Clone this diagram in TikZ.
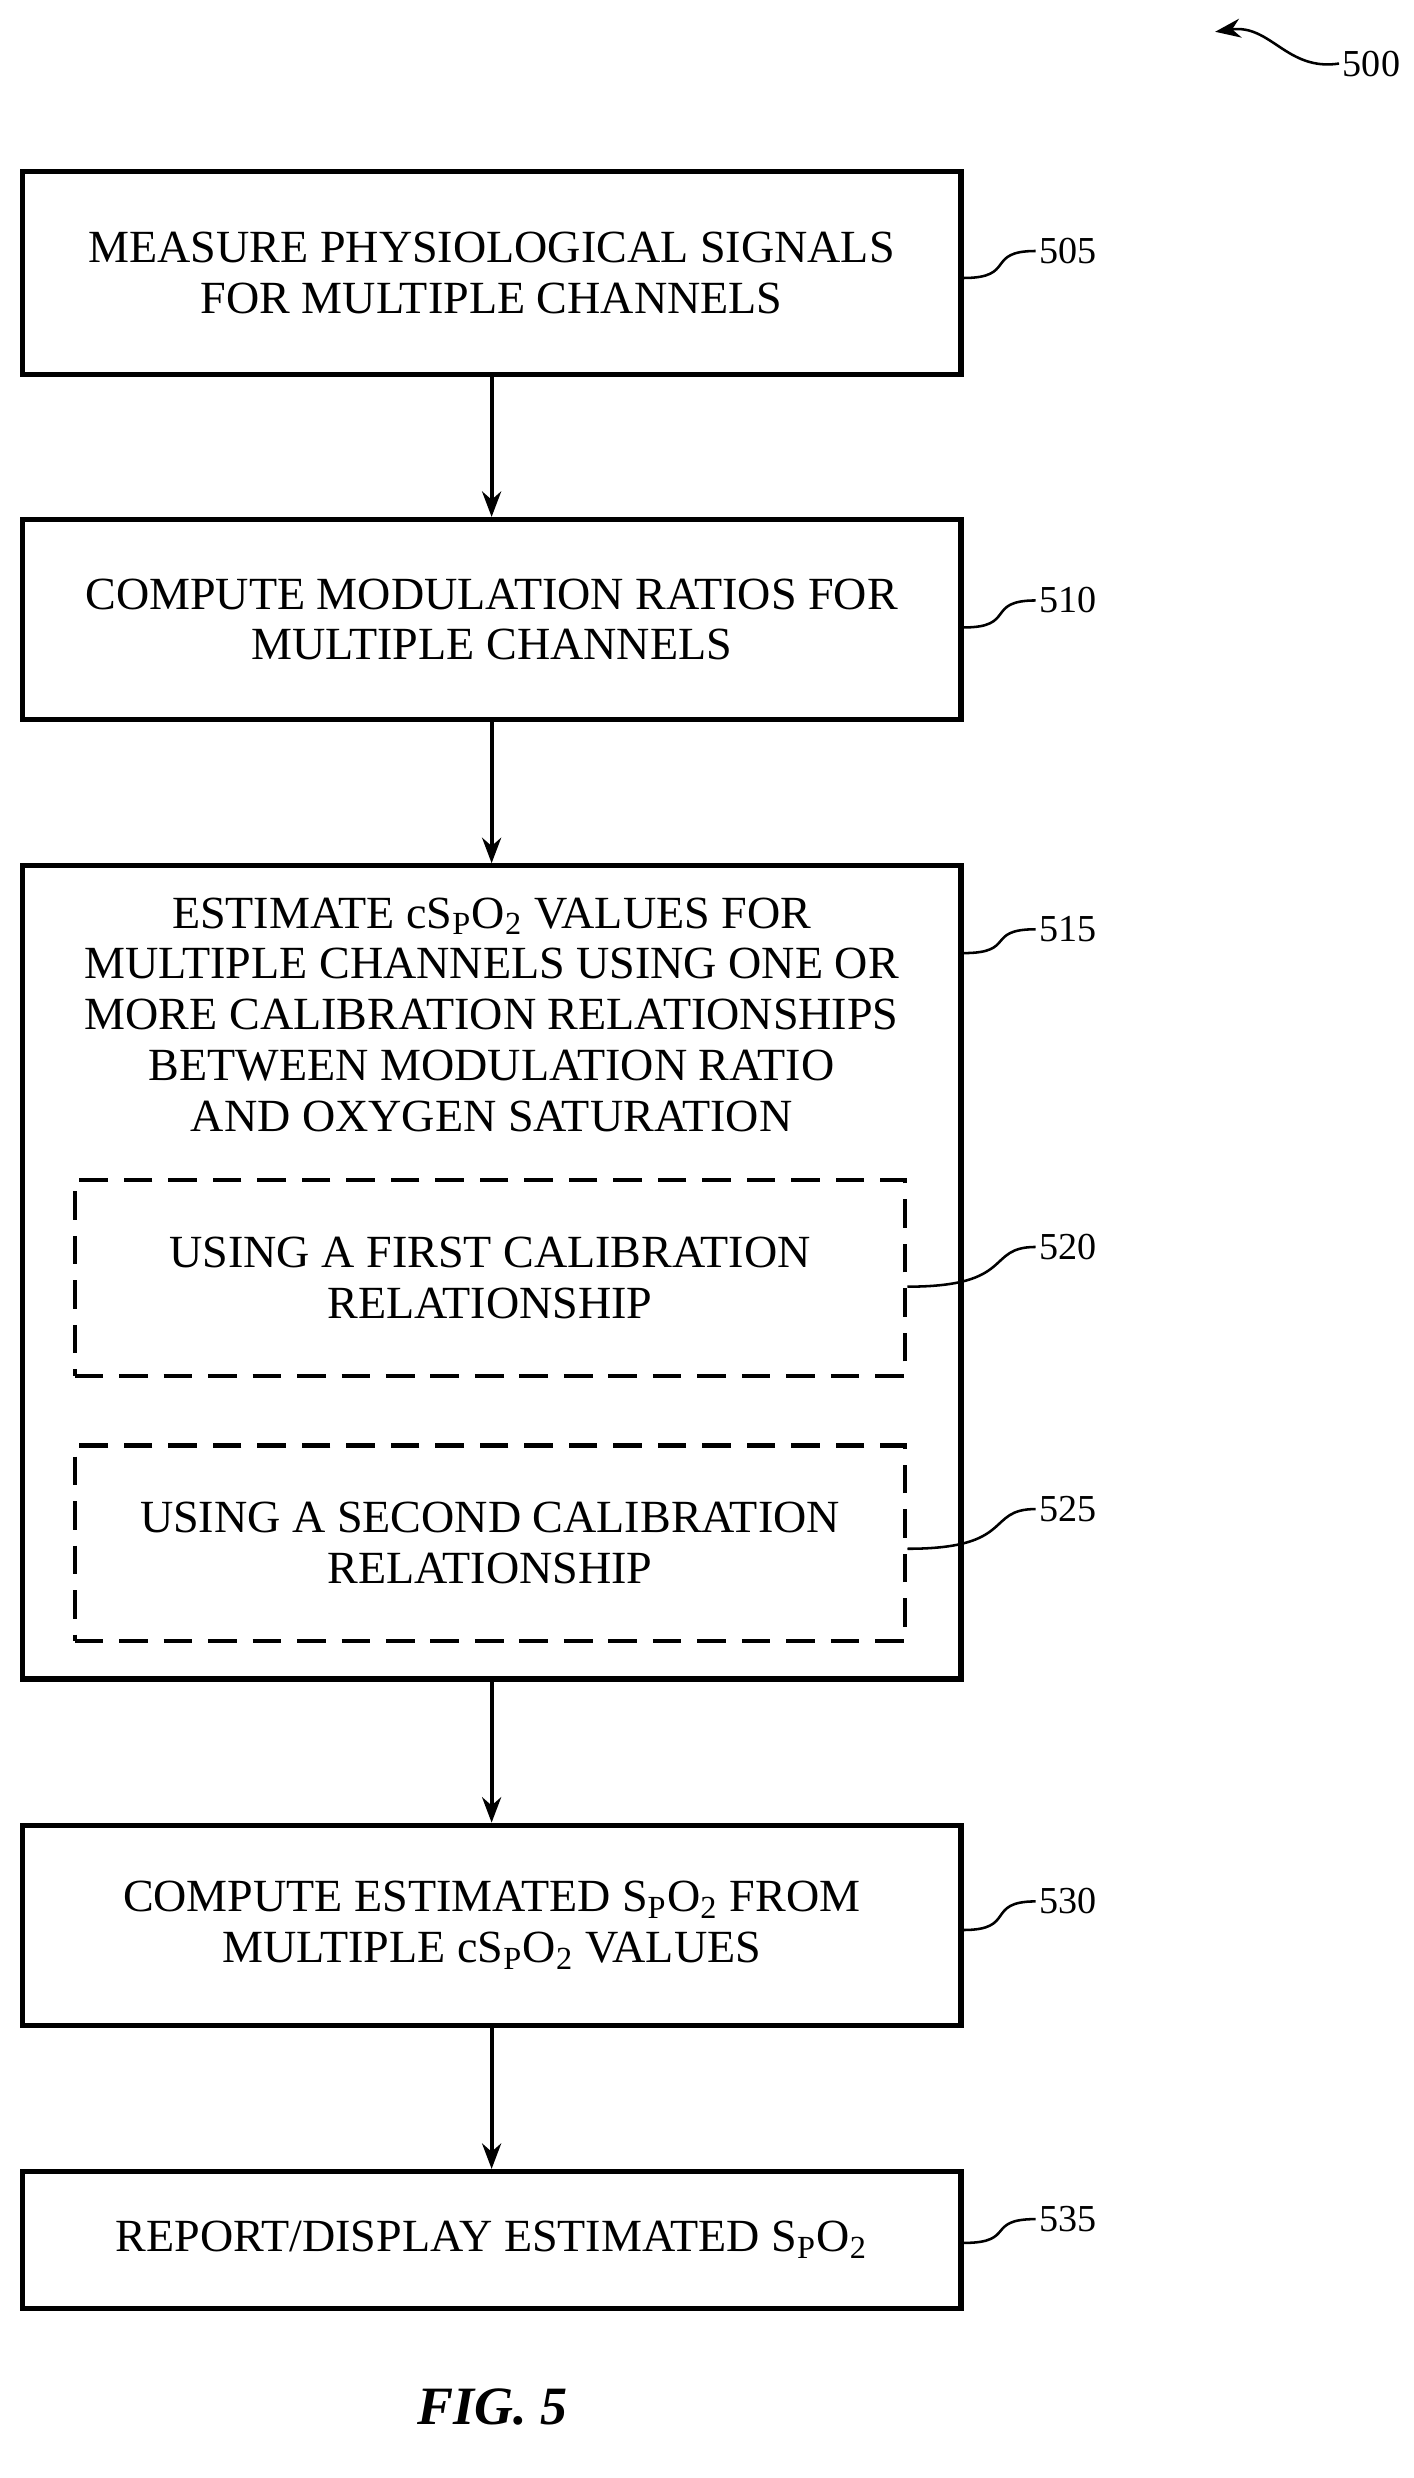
\documentclass[tikz,border=0pt]{standalone}
\usepackage{fontspec}
\setmainfont{Liberation Serif}
\usetikzlibrary{positioning,arrows.meta}
\tikzset{
  stepbox/.style={draw,line width=1.6pt,minimum width=295.5pt,align=center,font=\fontsize{14.5}{16}\selectfont,inner sep=0pt},
  sub/.style={draw,dashed,line width=1.3pt,dash pattern=on 9pt off 5pt,minimum width=261.5pt,minimum height=61.5pt,align=center,font=\fontsize{14.5}{16}\selectfont},
  ref/.style={font=\fontsize{12}{14}\selectfont,anchor=west,inner sep=1pt},
  lead/.style={line width=0.8pt},
  flow/.style={line width=1.2pt,-{Stealth[length=8pt,width=6pt]}}
}
\newcommand{\spo}{S\textsubscript{P}O\textsubscript{2}}
\begin{document}
\begin{tikzpicture}[x=0.5pt,y=-0.5pt]
\useasboundingbox (0,0) rectangle (890,1560);
%the steps
\node[stepbox,minimum height=64pt] (s505) at (309.5,172) {MEASURE PHYSIOLOGICAL SIGNALS\\FOR MULTIPLE CHANNELS};
\node[stepbox,minimum height=63pt] (s510) at (309.5,390) {COMPUTE MODULATION RATIOS FOR\\MULTIPLE CHANNELS};
\node[stepbox,minimum height=256pt] (s515) at (309.5,801) {};
\node[align=center,font=\fontsize{14.5}{16}\selectfont,anchor=north] (t515) at (309.5,558) {ESTIMATE c\spo{} VALUES FOR\\MULTIPLE CHANNELS USING ONE OR\\MORE CALIBRATION RELATIONSHIPS\\BETWEEN MODULATION RATIO\\AND OXYGEN SATURATION};
\node[sub] (s520) at (308.5,804.5) {USING A FIRST CALIBRATION\\RELATIONSHIP};
\node[sub] (s525) at (308.5,971.5) {USING A SECOND CALIBRATION\\RELATIONSHIP};
\node[stepbox,minimum height=63pt] (s530) at (309.5,1212) {COMPUTE ESTIMATED \spo{} FROM\\MULTIPLE c\spo{} VALUES};
\node[stepbox,minimum height=43pt] (s535) at (309.5,1410) {REPORT/DISPLAY ESTIMATED \spo};
%arrows
\draw[flow] (s505) -- (s510);
\draw[flow] (s510) -- (s515);
\draw[flow] (s515) -- (s530);
\draw[flow] (s530) -- (s535);
%reference labels
\foreach \n/\y/\ly in {505/175/158,510/395/378,515/600/585,530/1215/1197,535/1412/1397}{
  \node[ref] (r\n) at (652,\ly) {\n};
  \draw[lead] (s\n.east |- 0,\y) .. controls (640,\y) and (620,\ly) .. (r\n.west);
}
\foreach \n/\y/\ly in {520/810/785,525/975/950}{
  \node[ref] (r\n) at (652,\ly) {\n};
  \draw[lead] (s\n.east |- 0,\y) .. controls (640,\y) and (620,\ly) .. (r\n.west);
}
\node[ref] (r500) at (843,40) {500};
\draw[lead,-{Stealth[length=8pt,width=6pt]}] (r500.west) .. controls (810,45) and (800,15) .. (765,20);
\node[font=\fontsize{17}{20}\selectfont\bfseries\itshape] (fig) at (310,1515) {FIG. 5};
\end{tikzpicture}
\end{document}
